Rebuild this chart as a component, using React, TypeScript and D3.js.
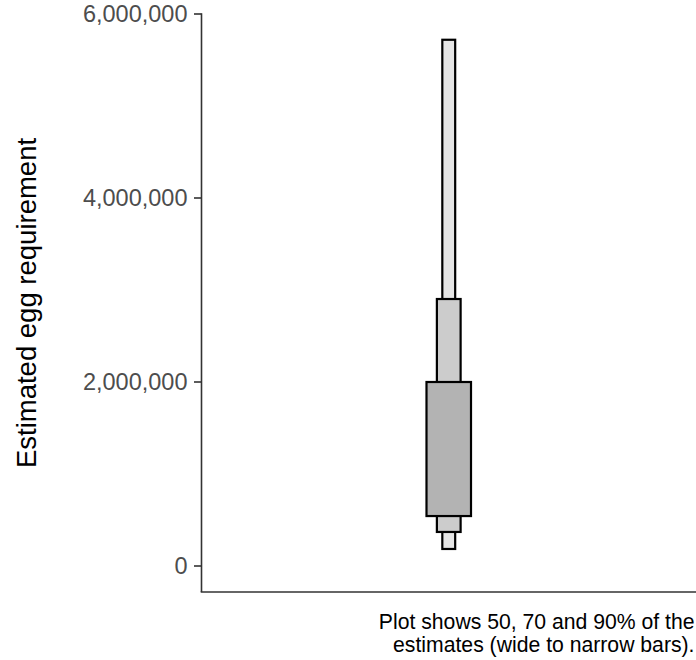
import React from "react";
import * as d3 from "d3";

const intervals = ["90%", "70%", "50%"];
const lowerValues = [185000, 370000, 543000];
const upperValues = [5720000, 2902000, 2000000];
const barWidths = [0.026, 0.048, 0.09];
const barFills = ["#e5e5e5", "#cccccc", "#b3b3b3"];
const yTicks = [0, 2000000, 4000000, 6000000];
const yLabel = "Estimated egg requirement";
const captionLines = ["Plot shows 50, 70 and 90% of the", "estimates (wide to narrow bars)."];

export default function App() {
  const W = 696, H = 660;
  const left = 201.5, right = 696, top = 14, bottom = 592;
  const y = d3.scaleLinear().domain([0, 6000000]).range([566, top]);
  const x = d3.scaleLinear().domain([0, 1]).range([left, right]);
  const fmt = d3.format(",");
  return (
    <svg width={W} height={H} style={{ position: "absolute", left: 0, top: 0 }} fontFamily="Liberation Sans, Arial, sans-serif">
      {intervals.map((name, i) => (
        <rect
          key={name}
          x={x(0.5 - barWidths[i] / 2)}
          width={x(0.5 + barWidths[i] / 2) - x(0.5 - barWidths[i] / 2)}
          y={y(upperValues[i])}
          height={y(lowerValues[i]) - y(upperValues[i])}
          fill={barFills[i]}
          stroke="#000"
          strokeWidth={2.2}
        />
      ))}
      <line x1={left} x2={left} y1={top - 0.8} y2={bottom} stroke="#333" strokeWidth={1.6} />
      <line x1={left - 0.8} x2={right} y1={bottom} y2={bottom} stroke="#333" strokeWidth={1.6} />
      {yTicks.map((t) => (
        <g key={t}>
          <line x1={left - 7.5} x2={left} y1={y(t)} y2={y(t)} stroke="#333" strokeWidth={1.6} />
          <text x={187.5} y={y(t)} dy="0.36em" textAnchor="end" fontSize={23.5} fill="#4d4d4d">
            {fmt(t)}
          </text>
        </g>
      ))}
      <text
        transform={`translate(36, ${(top + bottom) / 2}) rotate(-90)`}
        textAnchor="middle"
        fontSize={27.5}
        fill="#000"
      >
        {yLabel}
      </text>
      {captionLines.map((l, i) => (
        <text key={i} x={694.5} y={629 + i * 23} textAnchor="end" fontSize={21.2} fill="#000">
          {l}
        </text>
      ))}
    </svg>
  );
}
